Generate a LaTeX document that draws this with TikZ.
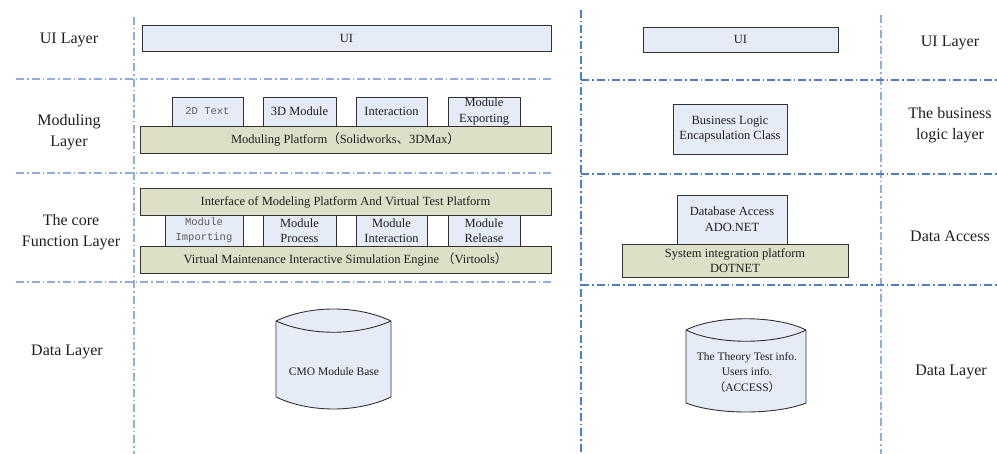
\documentclass[tikz,border=0pt]{standalone}
\usepackage{fontspec}
\setmainfont{Liberation Serif}
\newfontfamily\monof{Liberation Mono}
\newfontfamily\cjk{Noto Sans CJK SC}
\definecolor{boxblue}{RGB}{230,236,247}
\definecolor{boxolive}{RGB}{221,224,199}
\definecolor{lineA}{RGB}{145,175,222}
\definecolor{lineB}{RGB}{80,125,200}
\definecolor{edge}{RGB}{50,50,50}
\definecolor{txt}{RGB}{30,30,30}
\definecolor{monotxt}{RGB}{90,90,90}
\begin{document}
\begin{tikzpicture}[x=1pt,y=-1pt,
  sepA/.style={draw=lineA,line width=1.1pt,dash pattern=on 8pt off 3pt on 1.5pt off 3pt},
  sepB/.style={draw=lineB,line width=1.1pt,dash pattern=on 8pt off 3pt on 1.5pt off 3pt},
  lbl/.style={font=\fontsize{16}{21}\selectfont,text=txt,align=center,inner sep=0pt},
  basebox/.style={draw=edge,line width=0.9pt,inner sep=0pt,align=center,text=txt,
    font=\fontsize{12.5}{15.5}\selectfont},
  bluebox/.style={basebox,fill=boxblue},
  olivebox/.style={basebox,fill=boxolive},
  monobox/.style={bluebox,font=\monof\fontsize{10.5}{15}\selectfont,text=monotxt},
  cyl/.style={draw=edge,line width=0.9pt,fill=boxblue},
  cyltext/.style={font=\fontsize{11.5}{15.5}\selectfont,text=txt,align=center,inner sep=0pt}
]
\useasboundingbox (0,0) rectangle (997,454);

% separator lines
\draw[sepA] (134,17) -- (134,454);
\draw[sepA] (16,79) -- (551,79);
\draw[sepA] (16,173) -- (551,173);
\draw[sepA] (16,282) -- (551,282);
\draw[sepB] (581,10) -- (581,454);
\draw[sepA] (881,15) -- (881,454);
\draw[sepB] (581,80) -- (997,80);
\draw[sepB] (581,174) -- (997,174);
\draw[sepB] (581,285) -- (997,285);

% left labels
\node[lbl] (lui) at (69,40) {UI Layer};
\node[lbl] (lmod) at (69,132) {Moduling\\Layer};
\node[lbl] (lcore) at (71,232.5) {The core\\Function Layer};
\node[lbl] (ldata) at (67,352) {Data Layer};

% right labels
\node[lbl] (rui) at (950,43) {UI Layer};
\node[lbl] (rbiz) at (950,125.5) {The business\\logic layer};
\node[lbl] (racc) at (950,236) {Data Access};
\node[lbl] (rdata) at (951,372) {Data Layer};

% left panel boxes
\node[bluebox,minimum width=409,minimum height=26] (ui1) at (346.5,38) {UI};
\node[monobox,minimum width=71,minimum height=29] (t2d) at (207.5,111.5) {2D Text};
\node[bluebox,minimum width=73,minimum height=29] (t3d) at (299.5,111.5) {3D Module};
\node[bluebox,minimum width=71,minimum height=29] (tint) at (391.5,111.5) {Interaction};
\node[bluebox,minimum width=72,minimum height=29] (texp) at (484,111.5) {Module\\Exporting};
\node[olivebox,minimum width=411,minimum height=27] (mplat) at (345.5,139.5)
  {Moduling Platform{\cjk （}Solidworks{\cjk 、}3DMax{\cjk ）}};
\node[olivebox,minimum width=411,minimum height=27] (iface) at (345.5,202)
  {Interface of Modeling Platform And Virtual Test Platform};
\node[monobox,minimum width=78,minimum height=31] (mimp) at (204,230.5) {Module\\Importing};
\node[bluebox,minimum width=73,minimum height=31] (mproc) at (299.5,230.5) {Module\\Process};
\node[bluebox,minimum width=71,minimum height=31] (mint) at (391.5,230.5) {Module\\Interaction};
\node[bluebox,minimum width=72,minimum height=31] (mrel) at (484,230.5) {Module\\Release};
\node[olivebox,minimum width=411,minimum height=27] (veng) at (345.5,259.5)
  {Virtual Maintenance Interactive Simulation Engine {\cjk （}Virtools{\cjk ）}};

% left cylinder
\draw[cyl] (276,321) .. controls (310,305) and (357,305) .. (391,321) -- (391,397)
  .. controls (357,413) and (310,413) .. (276,397) -- cycle;
\draw[draw=edge,line width=0.9pt] (276,321) .. controls (310,336) and (357,336) .. (391,321);
\node[cyltext] (cmo) at (334,372) {CMO Module Base};

% right panel boxes
\node[bluebox,minimum width=195,minimum height=25] (ui2) at (740.5,39.5) {UI};
\node[bluebox,minimum width=114,minimum height=50] (blogic) at (730,129)
  {Business Logic\\Encapsulation Class};
\node[bluebox,minimum width=110,minimum height=49] (dbacc) at (732,219.5)
  {Database Access\\ADO.NET};
\node[olivebox,minimum width=226,minimum height=33] (dotnet) at (735,260.5)
  {System integration platform\\DOTNET};

% right cylinder
\draw[cyl] (686,330) .. controls (716,315) and (776,315) .. (806,330) -- (806,403)
  .. controls (776,415) and (716,415) .. (686,403) -- cycle;
\draw[draw=edge,line width=0.9pt] (686,330) .. controls (716,345) and (776,345) .. (806,330);
\node[cyltext] (acc) at (747,372.5)
  {The Theory Test info.\\Users info.\\{\cjk （}ACCESS{\cjk ）}};
\end{tikzpicture}
\end{document}
